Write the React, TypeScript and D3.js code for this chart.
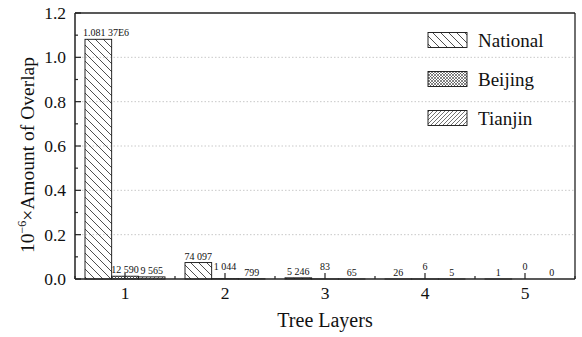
import React from 'react';
import * as d3 from 'd3';

// DATA

const layers = [1, 2, 3, 4, 5];
const seriesNames = ['National', 'Beijing', 'Tianjin'];
const national = [1081370, 74097, 5246, 26, 1];
const beijing = [12590, 1044, 83, 6, 0];
const tianjin = [9565, 799, 65, 5, 0];
const yTicks = [0, 0.2, 0.4, 0.6, 0.8, 1.0, 1.2];

const W = 582;
const H = 337;
const margin = { top: 13, right: 7, bottom: 58, left: 75 };
const font = 'Liberation Serif, DejaVu Serif, serif';

const patternIds = ['pNational', 'pBeijing', 'pTianjin'];

// groups of three digits split by a space, like the picture
function fmt(v: number): string {
  if (v >= 1e6) {
    const m = (v / 1e6).toFixed(5);
    return m.slice(0, 5) + ' ' + m.slice(5) + 'E6';
  }
  return d3.format(',')(v).replace(/,/g, ' ');
}

function Patterns() {
  return (
    <defs>
      <pattern id="pNational" patternUnits="userSpaceOnUse" width={8} height={8}>
        <path d="M-1,-1 L9,9 M7,-1 L9,1 M-1,7 L1,9" stroke="#222" strokeWidth={0.8} />
      </pattern>
      <pattern id="pBeijing" patternUnits="userSpaceOnUse" width={3} height={3}>
        <rect width={3} height={3} fill="#fff" />
        <path d="M-1,-1 L4,4 M2,-1 L4,1 M-1,2 L1,4 M4,-1 L-1,4 M1,-1 L-1,1 M4,2 L2,4" stroke="#333" strokeWidth={0.6} />
      </pattern>
      <pattern id="pTianjin" patternUnits="userSpaceOnUse" width={4} height={4}>
        <path d="M-1,5 L5,-1 M-1,1 L1,-1 M3,5 L5,3" stroke="#333" strokeWidth={0.7} />
      </pattern>
    </defs>
  );
}

export default function App() {
  const x = d3.scaleLinear().domain([0.5, 5.5]).range([margin.left, W - margin.right]);
  const y = d3.scaleLinear().domain([0, 1.2]).range([H - margin.bottom, margin.top]);
  const sub = d3.scaleBand<string>().domain(seriesNames).range([-40, 40]);
  const bw = sub.bandwidth();

  const data = [national, beijing, tianjin];
  const x0 = margin.left;
  const x1 = W - margin.right;
  const y0 = H - margin.bottom;
  const y1 = margin.top;

  const minorX = d3.range(0.5, 5.6, 1);
  const minorY = d3.range(0.1, 1.2, 0.2);

  return (
    <svg width={W} height={H} style={{ position: 'absolute', left: 0, top: 0, background: '#fff', fontFamily: font }}>
      <Patterns />

      {/* grid */}
      {yTicks.slice(1, -1).map((t) => (
        <line key={'g' + t} x1={x0} x2={x1} y1={y(t)} y2={y(t)} stroke="#bbb" strokeWidth={0.8} strokeDasharray="1.5,2" />
      ))}

      {/* bars */}
      {data.map((vals, si) =>
        vals.map((v, li) => {
          const bx = x(layers[li]) + (sub(seriesNames[si]) as number);
          const by = y(v / 1e6);
          return (
            <rect
              key={si + '-' + li}
              x={bx}
              y={by}
              width={bw}
              height={y0 - by}
              fill={`url(#${patternIds[si]})`}
              stroke="#111"
              strokeWidth={0.9}
            />
          );
        })
      )}

      {/* bar labels */}
      {data.map((vals, si) =>
        vals.map((v, li) => {
          const cx = x(layers[li]) + (sub(seriesNames[si]) as number) + bw / 2;
          const by = y(v / 1e6);
          const text = fmt(v);
          const tw = text.length * 4.6;
          const lx = Math.max(cx, x0 + 8 + tw / 2);
          let ly = by - 3;
          if (si === 1 && y0 - by < 2) ly = y0 - 9;
          return (
            <text key={'l' + si + '-' + li} x={lx} y={ly} fontSize={10} textAnchor="middle" fill="#111">
              {text}
            </text>
          );
        })
      )}

      {/* frame */}
      <line x1={x0} x2={x1} y1={y1} y2={y1} stroke="#222" strokeWidth={1.3} />
      <line x1={x1} x2={x1} y1={y1} y2={y0} stroke="#222" strokeWidth={1.3} />
      <line x1={x0} x2={x1} y1={y0} y2={y0} stroke="#222" strokeWidth={1.5} />
      <line x1={x0} x2={x0} y1={y1} y2={y0} stroke="#222" strokeWidth={1.5} />

      {/* x ticks */}
      {layers.map((l) => (
        <g key={'xt' + l}>
          <line x1={x(l)} x2={x(l)} y1={y0} y2={y0 - 6} stroke="#222" strokeWidth={1.2} />
          <text x={x(l)} y={y0 + 20} fontSize={17.5} textAnchor="middle" fill="#111">
            {l}
          </text>
        </g>
      ))}
      {minorX.map((m) => (
        <line key={'xm' + m} x1={x(m)} x2={x(m)} y1={y0} y2={y0 - 3} stroke="#222" strokeWidth={1.2} />
      ))}

      {/* y ticks */}
      {yTicks.map((t) => (
        <g key={'yt' + t}>
          <line x1={x0} x2={x0 + 6} y1={y(t)} y2={y(t)} stroke="#222" strokeWidth={1.2} />
          <text x={x0 - 9} y={y(t) + 6} fontSize={17.5} textAnchor="end" fill="#111">
            {d3.format('.1f')(t)}
          </text>
        </g>
      ))}
      {minorY.map((m) => (
        <line key={'ym' + m} x1={x0} x2={x0 + 3} y1={y(m)} y2={y(m)} stroke="#222" strokeWidth={1.2} />
      ))}

      {/* axis titles */}
      <text x={(x0 + x1) / 2} y={H - 10} fontSize={20} textAnchor="middle" fill="#111">
        Tree Layers
      </text>
      <text transform={`translate(34,155) rotate(-90)`} fontSize={19.5} textAnchor="middle" fill="#111">
        10<tspan dy={-8} fontSize={12}>−6</tspan>
        <tspan dy={8}>×Amount of Overlap</tspan>
      </text>

      {/* legend */}
      {seriesNames.map((s, i) => {
        const ly = 40 + i * 39;
        return (
          <g key={'lg' + s}>
            <rect x={428} y={ly - 7.5} width={39} height={15} fill={`url(#${patternIds[i]})`} stroke="#111" strokeWidth={0.9} />
            <text x={478} y={ly + 7} fontSize={19} fill="#111">
              {s}
            </text>
          </g>
        );
      })}
    </svg>
  );
}
